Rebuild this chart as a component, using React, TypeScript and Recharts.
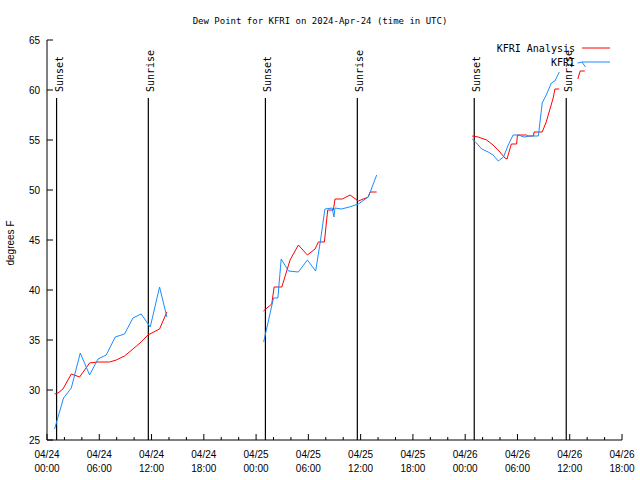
import { LineChart, Line, XAxis, YAxis, ReferenceLine, Legend } from "recharts";

// hours since 04/24 00:00 UTC, dew point in degrees F (null = gap)
const analysis = [
  { h: 0.87, v: 29.6 }, { h: 1.26, v: 29.7 }, { h: 1.83, v: 30.1 }, { h: 2.79, v: 31.6 },
  { h: 3.74, v: 31.3 }, { h: 4.89, v: 32.7 }, { h: 5.85, v: 32.8 }, { h: 7.18, v: 32.8 },
  { h: 7.95, v: 33.0 }, { h: 8.9, v: 33.4 }, { h: 9.86, v: 34.1 }, { h: 10.81, v: 34.8 },
  { h: 11.58, v: 35.5 }, { h: 12.92, v: 36.1 }, { h: 13.76, v: 37.8 },
  { h: 20, v: null },
  { h: 24.84, v: 37.9 }, { h: 25.8, v: 38.6 }, { h: 26.07, v: 40.3 }, { h: 26.95, v: 40.3 },
  { h: 27.9, v: 43.0 }, { h: 28.85, v: 44.5 }, { h: 29.89, v: 43.5 }, { h: 30.77, v: 44.1 },
  { h: 31.15, v: 44.8 }, { h: 31.84, v: 44.8 }, { h: 32.22, v: 48.0 }, { h: 32.87, v: 48.0 },
  { h: 33.06, v: 49.1 }, { h: 33.9, v: 49.1 }, { h: 34.78, v: 49.5 }, { h: 35.73, v: 48.9 },
  { h: 36.88, v: 49.3 }, { h: 37.08, v: 49.8 }, { h: 37.84, v: 49.8 },
  { h: 44, v: null },
  { h: 48.8, v: 55.4 }, { h: 49.5, v: 55.3 }, { h: 50.46, v: 55.0 }, { h: 51.2, v: 54.5 },
  { h: 51.98, v: 53.8 }, { h: 52.56, v: 53.2 }, { h: 52.8, v: 53.1 }, { h: 53.3, v: 54.6 },
  { h: 53.9, v: 54.6 }, { h: 54.0, v: 55.5 }, { h: 55.05, v: 55.5 }, { h: 55.2, v: 55.4 },
  { h: 55.85, v: 55.4 }, { h: 55.9, v: 55.8 }, { h: 56.84, v: 55.8 }, { h: 57.3, v: 56.8 },
  { h: 58.1, v: 59.2 }, { h: 58.3, v: 60.1 }, { h: 58.8, v: 60.1 },
  { h: 59.5, v: null },
  { h: 60.93, v: 61.1 }, { h: 61.2, v: 61.9 }, { h: 61.73, v: 61.9 },
];

const observed = [
  { h: 0.87, v: 26.1 }, { h: 1.9, v: 29.2 }, { h: 2.79, v: 30.2 }, { h: 3.82, v: 33.7 },
  { h: 4.89, v: 31.5 }, { h: 5.85, v: 33.1 }, { h: 6.8, v: 33.5 }, { h: 7.83, v: 35.3 },
  { h: 8.9, v: 35.6 }, { h: 9.86, v: 37.2 }, { h: 10.81, v: 37.6 }, { h: 11.85, v: 36.3 },
  { h: 12.92, v: 40.3 }, { h: 13.76, v: 37.3 },
  { h: 20, v: null },
  { h: 24.87, v: 34.8 }, { h: 26.0, v: 39.2 }, { h: 26.5, v: 39.2 }, { h: 26.88, v: 43.1 },
  { h: 27.72, v: 41.9 }, { h: 28.85, v: 41.8 }, { h: 29.89, v: 43.0 }, { h: 30.84, v: 41.9 },
  { h: 31.4, v: 45.0 }, { h: 31.9, v: 48.1 }, { h: 32.74, v: 48.2 }, { h: 32.93, v: 47.3 },
  { h: 33.06, v: 48.2 }, { h: 33.8, v: 48.1 }, { h: 34.7, v: 48.3 }, { h: 35.73, v: 48.6 },
  { h: 36.88, v: 49.3 }, { h: 37.84, v: 51.5 },
  { h: 44, v: null },
  { h: 48.8, v: 55.1 }, { h: 49.3, v: 54.7 }, { h: 49.9, v: 54.1 }, { h: 50.64, v: 53.8 },
  { h: 51.2, v: 53.5 }, { h: 51.8, v: 52.9 }, { h: 52.4, v: 53.3 }, { h: 52.94, v: 54.5 },
  { h: 53.5, v: 55.5 }, { h: 54.1, v: 55.5 }, { h: 54.77, v: 55.3 }, { h: 55.4, v: 55.4 },
  { h: 56.4, v: 55.4 }, { h: 56.84, v: 58.7 }, { h: 57.3, v: 59.5 }, { h: 57.9, v: 60.7 },
  { h: 58.3, v: 60.9 }, { h: 58.8, v: 61.8 },
  { h: 59.5, v: null },
  { h: 60.9, v: 62.7 }, { h: 61.4, v: 62.8 }, { h: 61.8, v: 62.3 },
];

const sunEvents = [
  { h: 1.1, label: "Sunset" },
  { h: 11.63, label: "Sunrise" },
  { h: 25.07, label: "Sunset" },
  { h: 35.62, label: "Sunrise" },
  { h: 49.04, label: "Sunset" },
  { h: 59.6, label: "Sunrise" },
];

const seriesNames = ["KFRI Analysis", "KFRI"];
const majorHours = [0, 6, 12, 18, 24, 30, 36, 42, 48, 54, 60, 66];
const hourLabels = [
  ["04/24", "00:00"], ["04/24", "06:00"], ["04/24", "12:00"], ["04/24", "18:00"],
  ["04/25", "00:00"], ["04/25", "06:00"], ["04/25", "12:00"], ["04/25", "18:00"],
  ["04/26", "00:00"], ["04/26", "06:00"], ["04/26", "12:00"], ["04/26", "18:00"],
];
const minorHours = [
  0, 2, 4, 6, 8, 10, 12, 14, 16, 18, 20, 22, 24, 26, 28, 30, 32,
  34, 36, 38, 40, 42, 44, 46, 48, 50, 52, 54, 56, 58, 60, 62, 64, 66,
];
const dewTicks = [25, 30, 35, 40, 45, 50, 55, 60, 65];

const MONO = "'DejaVu Sans Mono', monospace";
const SANS = "'Liberation Sans', Arial, sans-serif";

function BottomTick(props: any) {
  const { x, y, payload } = props;
  const idx = majorHours.indexOf(payload.value);
  return (
    <g>
      <line x1={x} x2={x} y1={y} y2={y - (idx >= 0 ? 6 : 3)} stroke="#000" />
      {idx >= 0 && (
        <text textAnchor="middle" fontFamily={SANS} fontSize={10} fill="#000">
          <tspan x={x} y={y + 18}>{hourLabels[idx][0]}</tspan>
          <tspan x={x} y={y + 32}>{hourLabels[idx][1]}</tspan>
        </text>
      )}
    </g>
  );
}

function TopTick(props: any) {
  const { x, y, payload } = props;
  const major = majorHours.includes(payload.value);
  return <line x1={x} x2={x} y1={y} y2={y + (major ? 6 : 3)} stroke="#000" />;
}

function LeftTick(props: any) {
  const { x, y, payload } = props;
  return (
    <g>
      <line x1={x} x2={x + 6} y1={y} y2={y} stroke="#000" />
      <text x={x - 7} y={y} dy="0.36em" textAnchor="end" fontFamily={SANS} fontSize={10} fill="#000">
        {payload.value}
      </text>
    </g>
  );
}

function RightTick(props: any) {
  const { x, y } = props;
  return <line x1={x} x2={x - 6} y1={y} y2={y} stroke="#000" />;
}

function SunLabel(props: any) {
  const vb = props.viewBox || props;
  const x = vb.x + 6;
  const y = vb.y - 6;
  return (
    <text x={x} y={y} transform={`rotate(-90 ${x} ${y})`} fontFamily={MONO} fontSize={10} fill="#000">
      {props.text}
    </text>
  );
}

function KeyBox(props: any) {
  const items = [...(props.payload || [])].sort(
    (a: any, b: any) => seriesNames.indexOf(a.value) - seriesNames.indexOf(b.value)
  );
  return (
    <svg width={180} height={34} style={{ display: "block", overflow: "visible" }}>
      {items.map((it: any, i: number) => (
        <g key={it.value}>
          <text x={135} y={10.5 + i * 14} textAnchor="end" fontFamily={MONO} fontSize={10} fill="#000">
            {it.value}
          </text>
          <line x1={142} x2={170} y1={7 + i * 14} y2={7 + i * 14} stroke={it.color} />
        </g>
      ))}
    </svg>
  );
}

export default function App() {
  return (
    <div style={{ position: "absolute", left: 0, top: 0, width: 640, height: 480, background: "#fff" }}>
      <LineChart width={640} height={480} margin={{ top: 40, right: 18, bottom: 0, left: 0 }}>
        <XAxis
          xAxisId="bottom"
          dataKey="h"
          type="number"
          domain={[0, 66]}
          ticks={minorHours}
          interval={0}
          height={40}
          tickSize={0}
          tickMargin={0}
          tickLine={false}
          tick={<BottomTick />}
          axisLine={{ stroke: "#000" }}
        />
        <XAxis
          xAxisId="top"
          orientation="top"
          dataKey="h"
          type="number"
          domain={[0, 66]}
          ticks={minorHours}
          interval={0}
          height={0}
          tickSize={0}
          tickMargin={0}
          tickLine={false}
          tick={<TopTick />}
          axisLine={{ stroke: "#000" }}
        />
        <YAxis
          yAxisId="left"
          type="number"
          domain={[25, 65]}
          ticks={dewTicks}
          interval={0}
          width={47}
          tickSize={0}
          tickMargin={0}
          tickLine={false}
          tick={<LeftTick />}
          axisLine={{ stroke: "#000" }}
        />
        <YAxis
          yAxisId="right"
          orientation="right"
          type="number"
          domain={[25, 65]}
          ticks={dewTicks}
          interval={0}
          width={0}
          tickSize={0}
          tickMargin={0}
          tickLine={false}
          tick={<RightTick />}
          axisLine={{ stroke: "#000" }}
        />
        {sunEvents.map((s, i) => (
          <ReferenceLine
            key={i}
            xAxisId="bottom"
            yAxisId="left"
            segment={[{ x: s.h, y: 25 }, { x: s.h, y: 59.2 }]}
            stroke="#000"
            strokeWidth={1.2}
            label={<SunLabel text={s.label} />}
          />
        ))}
        <Line
          xAxisId="bottom"
          yAxisId="left"
          data={analysis}
          dataKey="v"
          name={seriesNames[0]}
          type="linear"
          stroke="#ff0000"
          strokeWidth={1}
          dot={false}
          activeDot={false}
          connectNulls={false}
          isAnimationActive={false}
        />
        <Line
          xAxisId="bottom"
          yAxisId="left"
          data={observed}
          dataKey="v"
          name={seriesNames[1]}
          type="linear"
          stroke="#1a8cff"
          strokeWidth={1}
          dot={false}
          activeDot={false}
          connectNulls={false}
          isAnimationActive={false}
        />
        <Legend
          content={<KeyBox />}
          layout="horizontal"
          verticalAlign="middle"
          align="center"
          wrapperStyle={{ left: 440, top: 41, width: 180, height: 34 }}
        />
      </LineChart>
      <svg
        width={640}
        height={480}
        style={{ position: "absolute", left: 0, top: 0, pointerEvents: "none" }}
      >
        <text x={320} y={24} textAnchor="middle" fontFamily={MONO} fontSize={9} fill="#000">
          Dew Point for KFRI on 2024-Apr-24 (time in UTC)
        </text>
        <text x={14} y={243} transform="rotate(-90 14 243)" textAnchor="middle" fontFamily={SANS} fontSize={10} fill="#000">
          degrees F
        </text>
      </svg>
    </div>
  );
}
